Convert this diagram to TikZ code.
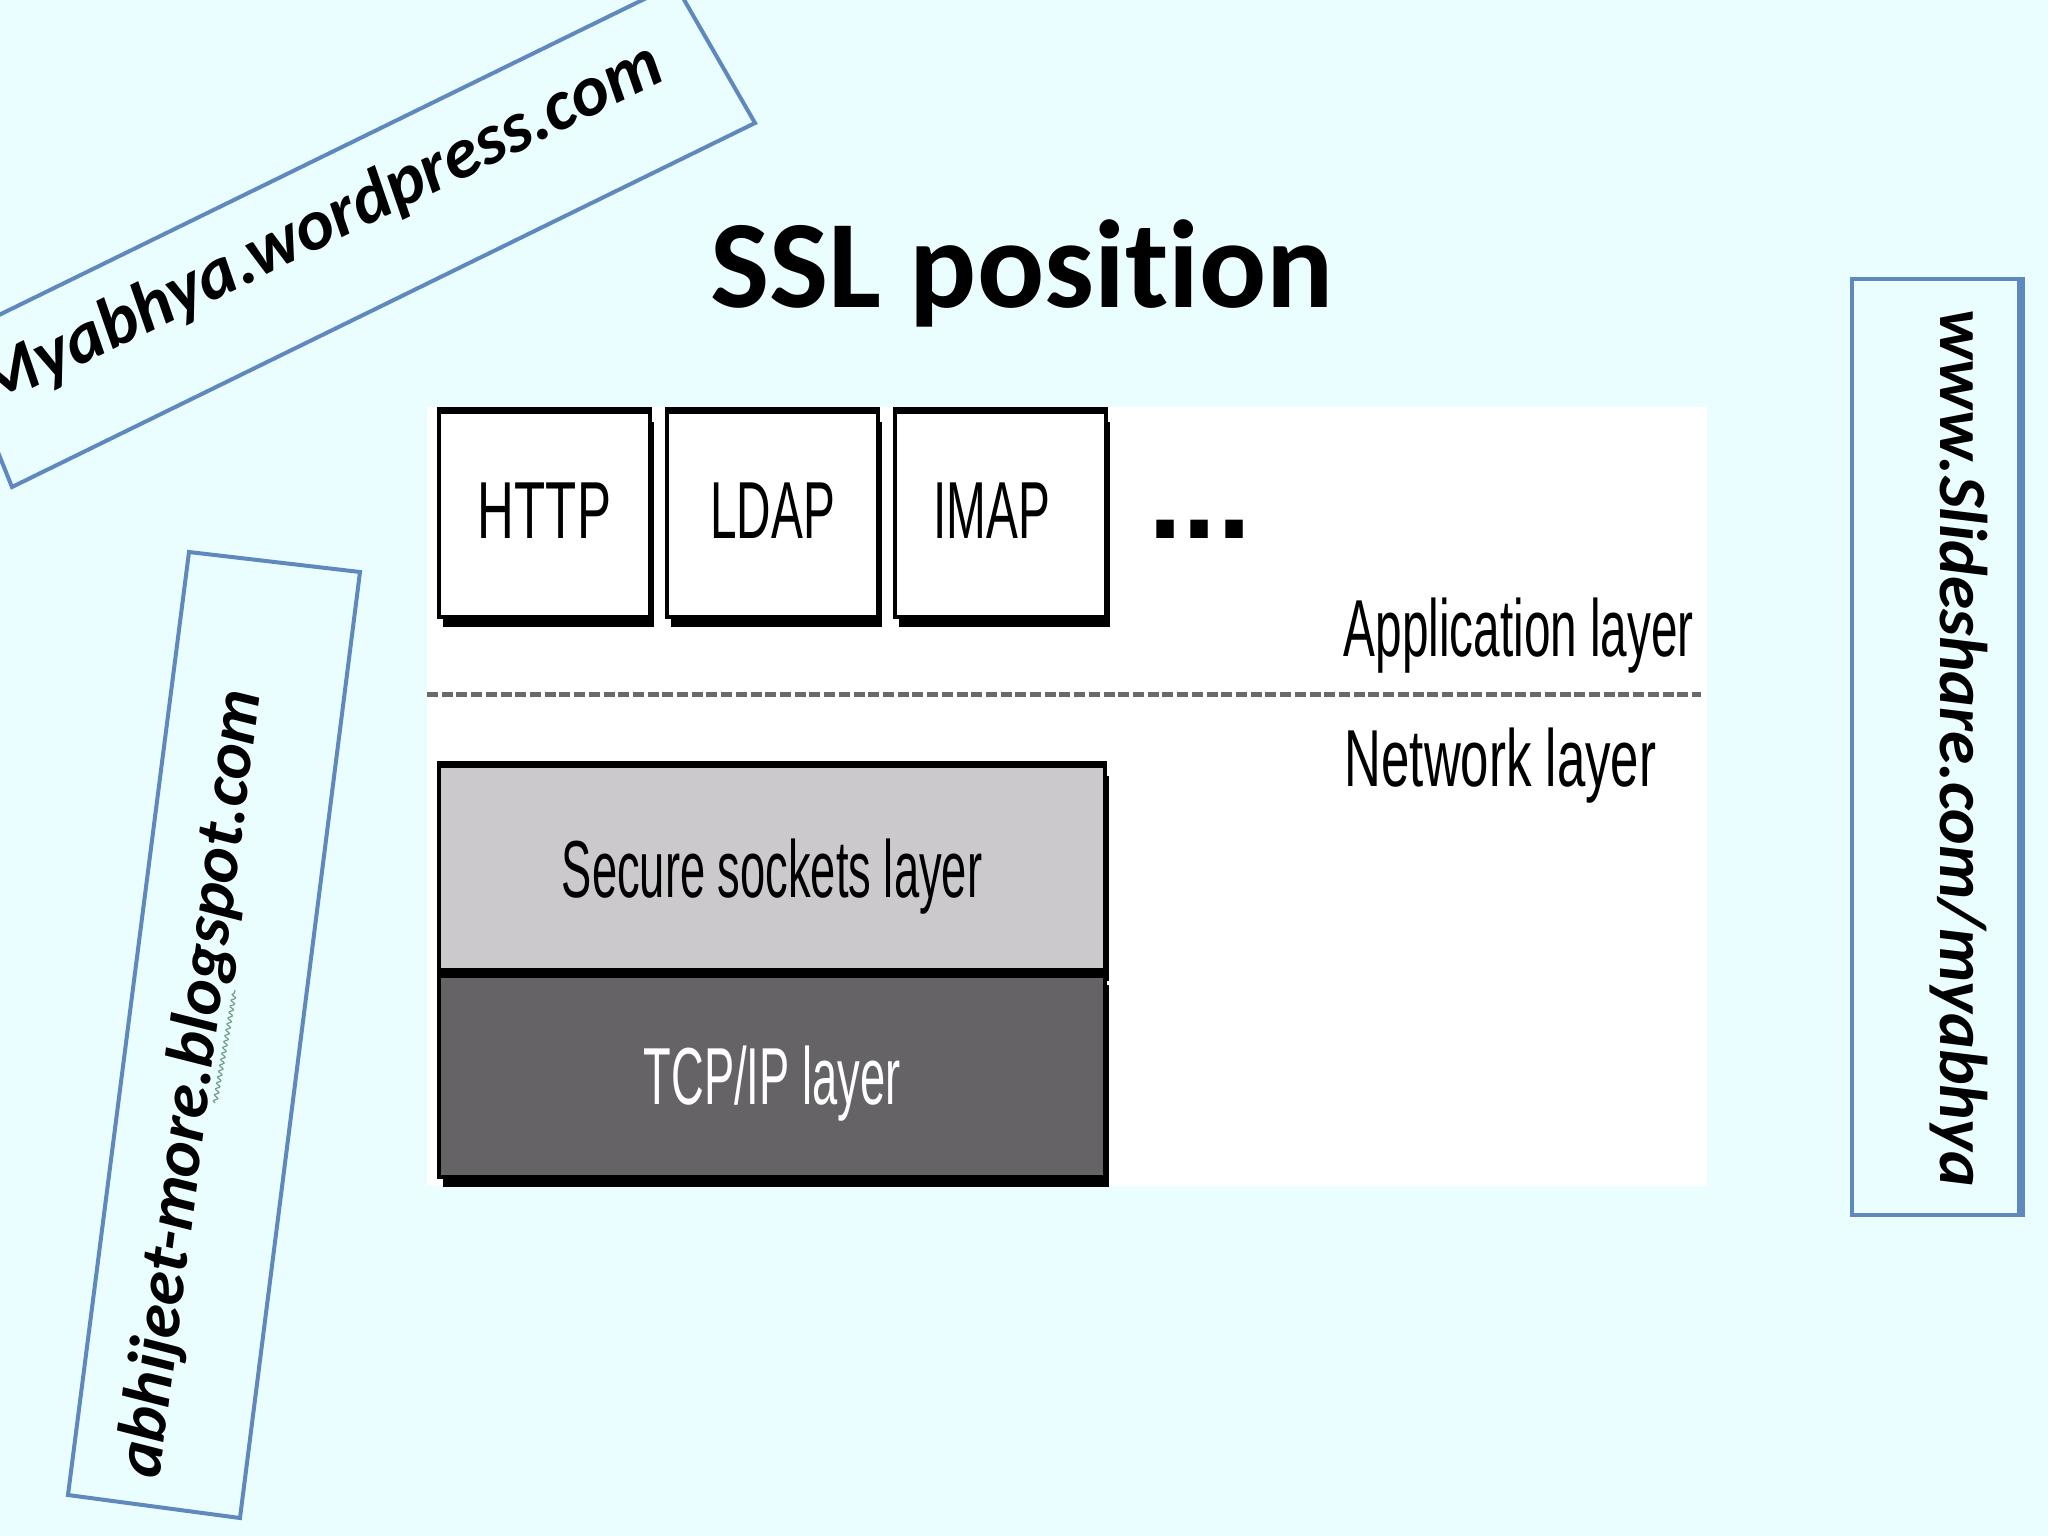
\documentclass[tikz,border=0pt]{standalone}
\usepackage{fontspec}
\setmainfont{Liberation Sans}
\newfontfamily\narrowfont[FakeStretch=0.59]{Liberation Sans}
\newfontfamily\slimfont[FakeStretch=0.56]{Liberation Sans}
\newfontfamily\widefont[FakeStretch=0.63]{Liberation Sans}
\newfontfamily\dotsfont{Liberation Sans Bold}
\newfontfamily\slidefont[Ligatures=NoCommon]{Carlito}
\usetikzlibrary{positioning,shadows,decorations.pathmorphing}
\definecolor{slidebg}{HTML}{EAFEFF}
\definecolor{tagblue}{HTML}{5F88BC}
\definecolor{sslgray}{HTML}{CBC9CC}
\definecolor{tcpgray}{HTML}{656366}
\definecolor{dashgray}{HTML}{6B696C}
\definecolor{squiggle}{HTML}{6F9F86}

\begin{document}
\begin{tikzpicture}[x=0.01cm,y=-0.01cm,
    layerbox/.style={draw=black,line width=.04cm,minimum width=2.11cm,inner sep=0pt,
      general shadow={fill=black,shadow xshift=.04cm,shadow yshift=-.1cm},
      font=\narrowfont\fontsize{23}{23}\selectfont},
    appbox/.style={layerbox,fill=white,minimum height=2.05cm,text height=.58cm,text depth=.11cm},
    layertext/.style={anchor=base west,inner sep=0pt,font=\narrowfont\fontsize{23}{23}\selectfont},
    tagbox/.style={draw=tagblue,line width=.04cm,line join=miter},
    tagtext/.style={inner sep=0pt,font=\slidefont\bfseries\itshape\fontsize{19.2}{19.2}\selectfont}]
  \clip (0,0) rectangle (2048,1536);
  \fill[slidebg] (0,0) rectangle (2048,1536);
  \fill[white] (427,407) rectangle (1707,1186);

  \node[anchor=base,inner sep=0pt,font=\slidefont\bfseries\fontsize{35.6}{35.6}\selectfont] (title) at (1022,307) {SSL position};

  \node[appbox] (http) at (544.5,514.5) {\widefont HTTP};
  \node[appbox,right=.13cm of http] (ldap) {LDAP};
  \node[appbox,right=.13cm of ldap] (imap) {\kern-.18cm IMAP};
  \node[anchor=base,inner sep=0pt,font=\dotsfont\fontsize{35}{35}\selectfont] (dots) at (1200,538) {...};

  \node[layertext] (applayer) at (1343,656) {Application layer};
  \coordinate (dashl) at (427,694);
  \coordinate (dashr) at (1701,694);
  \draw[dashgray,line width=.05cm,dash pattern=on .11cm off .037cm] (dashl) -- (dashr);
  \node[layertext,font=\widefont\fontsize{23}{23}\selectfont] (netlayer) at (1344,786) {Network layer};

  \node[layerbox,fill=sslgray,minimum width=6.66cm,minimum height=2.05cm,text height=.58cm,text depth=0cm] (ssl) at (772,868.5) {\slimfont Secure sockets layer};
  \node[layerbox,fill=tcpgray,text=white,minimum width=6.66cm,minimum height=2.02cm,text height=.58cm,text depth=.02cm,below=0cm of ssl] (tcp) {\slimfont TCP/IP layer};

  \foreach \boxname in {http,ldap,imap,ssl}
    \draw[line width=.055cm] (\boxname.north west) -- (\boxname.north east);
  \draw[line width=.1cm] (tcp.north west) -- (tcp.north east);

  \draw[tagbox] (12,487) -- (755,123) -- (675,-16) -- (-48,338) -- cycle;
  \node[tagtext,rotate=26,font=\slidefont\bfseries\itshape\fontsize{20.5}{20.5}\selectfont] (wordpress) at (320,227) {Myabhya.wordpress.com};

  \draw[tagbox] (189,552) -- (360,572) -- (240,1518) -- (68,1495) -- cycle;
  \node[tagtext,rotate=82.7] (blogspot) at (192,1084) {abhijeet-more.blogspot.com};
  \draw[squiggle,line width=.012cm,decorate,decoration={snake,amplitude=.02cm,segment length=.06cm}] (215,1103) -- (235,990);

  \node[tagbox,minimum width=1.67cm,minimum height=9.35cm] (slidesharebox) at (1935.5,747) {};
  \draw[tagbox,line width=.07cm] (slidesharebox.north east) -- (slidesharebox.south east);
  \node[tagtext,rotate=-90] (slideshare) at (1959,748) {www.Slideshare.com/myabhya};
\end{tikzpicture}
\end{document}
